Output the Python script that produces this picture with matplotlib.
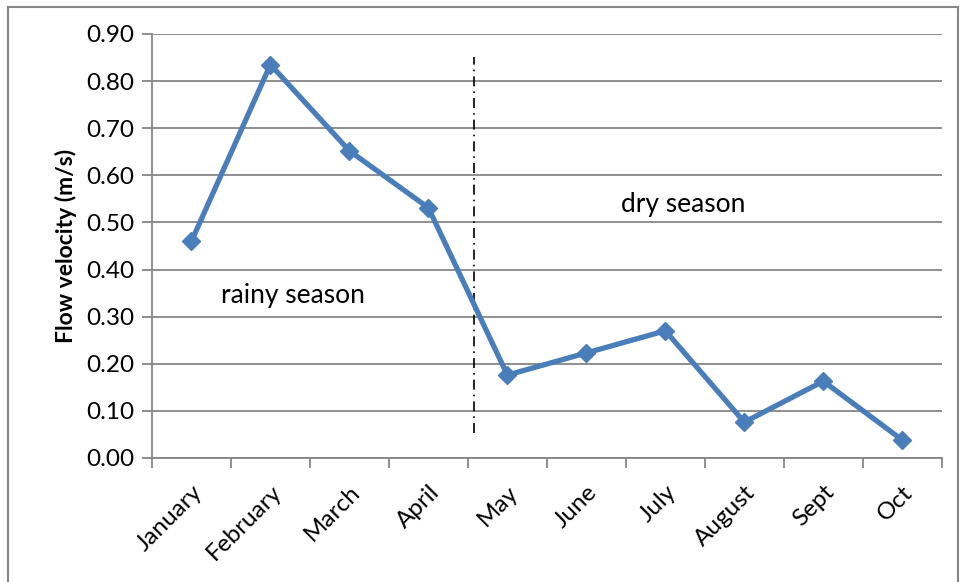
import matplotlib.pyplot as plt
from matplotlib.patches import Rectangle
import numpy as np

plt.rcParams['font.family'] = ['Lato', 'DejaVu Sans']

months = ['January', 'February', 'March', 'April', 'May', 'June',
          'July', 'August', 'Sept', 'Oct']
velocity = [0.46, 0.835, 0.652, 0.531, 0.176, 0.223, 0.270, 0.076, 0.163, 0.038]
y_ticks = [0.0, 0.1, 0.2, 0.3, 0.4, 0.5, 0.6, 0.7, 0.8, 0.9]

grid_col = '#868686'
line_col = '#4A7EBB'

fig = plt.figure(figsize=(9.63, 5.82), dpi=100)
ax = fig.add_axes([0.1578, 0.2131, 0.8202, 0.7285])

# outer chart border
fig.patches.append(Rectangle((8 / 963, -0.05), (958 - 8) / 963, 1.05 - 6.5 / 582,
                             transform=fig.transFigure, fill=False,
                             edgecolor=grid_col, linewidth=1.5))

x = np.arange(len(months))
ax.plot(x, velocity, color=line_col, linewidth=3.8, marker='D',
        markersize=9.5, zorder=3)

# season divider
ax.plot([3.576, 3.576], [0.053, 0.852], color='black', linewidth=1.2,
        linestyle=(0, (6, 3, 1, 3)), zorder=2)
ax.text(1.28, 0.344, 'rainy season', fontsize=19, ha='center', va='center')
ax.text(6.23, 0.539, 'dry season', fontsize=19, ha='center', va='center')

ax.set_xlim(-0.5, len(months) - 0.5)
ax.set_ylim(0, 0.9)
ax.set_yticks(y_ticks)
ax.set_yticklabels([f'{v:.2f}' for v in y_ticks], fontsize=17.5)
ax.yaxis.grid(True, color=grid_col, linewidth=1.3)
ax.set_axisbelow(True)

ax.set_xticks(np.arange(-0.5, len(months)), minor=False)
ax.set_xticklabels([])
ax.set_xticks(x, minor=True)
ax.set_xticklabels(months, minor=True, rotation=45, ha='right',
                   rotation_mode='anchor', fontsize=17.5)
ax.tick_params(axis='x', which='minor', length=0, pad=17)
ax.tick_params(axis='x', which='major', length=7, width=1.3, color=grid_col)
ax.tick_params(axis='y', length=7, width=1.3, color=grid_col, pad=6)

for s in ['top', 'right']:
    ax.spines[s].set_visible(False)
for s in ['left', 'bottom']:
    ax.spines[s].set_color(grid_col)
    ax.spines[s].set_linewidth(1.3)

ax.set_ylabel('Flow velocity (m/s)', fontsize=16.5, fontweight='bold', labelpad=6)

fig.savefig('out.png', dpi=100)
